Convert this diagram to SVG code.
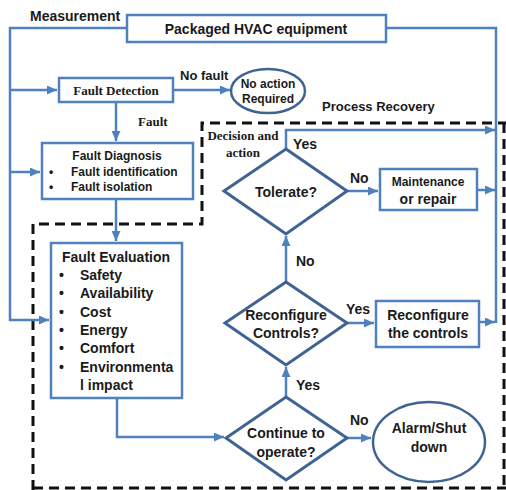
<svg xmlns="http://www.w3.org/2000/svg" width="506" height="490" viewBox="0 0 506 490">
<defs>
<style>
.box{fill:#fff;stroke:#4f81bd;stroke-width:2.5}
.dia{fill:#fff;stroke:#3f6494;stroke-width:3}
.ell{fill:#fff;stroke:#3f6494;stroke-width:2.5}
.con{fill:none;stroke:#4f81bd;stroke-width:2.5}
.arr{marker-end:url(#ah)}
.dash{fill:none;stroke:#111;stroke-width:3;stroke-dasharray:10 6}
text{font-family:"Liberation Sans",Arial,sans-serif;font-weight:bold;fill:#1a1a1a;dominant-baseline:central}
.s14{font-size:14px}
.s13{font-size:13px}
.s12{font-size:12px}
.serif{font-family:"Liberation Serif","Times New Roman",serif;font-size:13px}
.m{text-anchor:middle}
</style>
<marker id="ah" markerUnits="userSpaceOnUse" markerWidth="10" markerHeight="9" refX="10" refY="4.5" orient="auto">
<path d="M0,0 L10,4.5 L0,9 z" fill="#4f81bd"/>
</marker>
</defs>
<rect width="506" height="490" fill="#fff"/>

<g id="recovery-region">
<path class="dash" d="M33,490 V224 H202 V123 H506"/>
<path class="dash" d="M504,123 V490"/>
<path class="dash" d="M33,488 H506" stroke="#666" stroke-width="1.5"/>
<text class="s13" x="322" y="106" font-size="13.5">Process Recovery</text>
<text class="serif m" x="243" y="135">Decision and</text>
<text class="serif m" x="243" y="152">action</text>
</g>

<g id="connectors">
<path class="con arr" d="M127,28 H10 V320 H49"/>
<path class="con arr" d="M10,90 H57"/>
<path class="con arr" d="M10,172 H40"/>
<path class="con" d="M386,28 H496 V323"/>
<path class="con arr" d="M173,90 H230"/>
<path class="con arr" d="M116,102 V141"/>
<path class="con arr" d="M116,199 V241"/>
<path class="con arr" d="M117,398 V437 H224"/>
<path class="con arr" d="M347,438 H371"/>
<path class="con arr" d="M286,397 V367"/>
<path class="con arr" d="M347,323 H374"/>
<path class="con arr" d="M479,322 H495"/>
<path class="con arr" d="M286,282 V236"/>
<path class="con arr" d="M347,191 H378"/>
<path class="con arr" d="M477,190 H495"/>
<path class="con arr" d="M286,149 V130 H495"/>
<text class="s14" x="30" y="16">Measurement</text>
<text class="s13" x="180" y="75">No fault</text>
<text class="serif" x="138" y="121">Fault</text>
<text class="s14" x="293" y="144">Yes</text>
<text class="s14" x="350" y="178">No</text>
<text class="s14" x="296" y="261">No</text>
<text class="s14" x="346" y="309">Yes</text>
<text class="s14" x="296" y="385">Yes</text>
<text class="s14" x="350" y="420">No</text>
</g>

<g id="hvac">
<rect class="box" x="127" y="15" width="259" height="27"/>
<text class="s14 m" x="256" y="29">Packaged HVAC equipment</text>
</g>

<g id="fault-detection">
<rect class="box" x="59" y="78" width="114" height="24"/>
<text class="serif m" x="116" y="90">Fault Detection</text>
</g>

<g id="no-action">
<ellipse class="ell" cx="268" cy="91" rx="37" ry="22"/>
<text class="s12 m" x="268" y="84">No action</text>
<text class="s12 m" x="268" y="99">Required</text>
</g>

<g id="fault-diagnosis">
<rect class="box" x="42" y="143" width="151" height="56"/>
<text class="s12 m" x="117" y="156">Fault Diagnosis</text>
<text class="s12" x="49" y="172">•</text>
<text class="s12" x="71" y="172">Fault identification</text>
<text class="s12" x="49" y="187">•</text>
<text class="s12" x="71" y="187">Fault isolation</text>
</g>

<g id="fault-evaluation">
<rect class="box" x="51" y="243" width="131" height="155"/>
<text class="s14 m" x="116" y="257" font-size="13.2">Fault Evaluation</text>
<g class="s14">
<text x="59" y="275">•</text><text x="80" y="275">Safety</text>
<text x="59" y="293">•</text><text x="80" y="293">Availability</text>
<text x="59" y="312">•</text><text x="80" y="312">Cost</text>
<text x="59" y="330">•</text><text x="80" y="330">Energy</text>
<text x="59" y="348">•</text><text x="80" y="348">Comfort</text>
<text x="59" y="367">•</text><text x="80" y="367">Environmenta</text>
<text x="80" y="385">l impact</text>
</g>
</g>

<g id="tolerate">
<polygon class="dia" points="286,149 347,191 286,234 224,191"/>
<text class="s14 m" x="286" y="192">Tolerate?</text>
</g>

<g id="maintenance">
<rect class="box" x="380" y="169" width="97" height="41"/>
<text class="s12 m" x="428" y="182" font-size="12.5">Maintenance</text>
<text class="s14 m" x="428" y="199">or repair</text>
</g>

<g id="reconfigure-q">
<polygon class="dia" points="286,282 347,323 286,365 225,323"/>
<text class="s14 m" x="286" y="315">Reconfigure</text>
<text class="s14 m" x="286" y="333">Controls?</text>
</g>

<g id="reconfigure-box">
<rect class="box" x="376" y="301" width="103" height="46"/>
<text class="s14 m" x="428" y="315">Reconfigure</text>
<text class="s14 m" x="428" y="333">the controls</text>
</g>

<g id="continue-q">
<polygon class="dia" points="286,397 347,438 286,480 226,438"/>
<text class="s14 m" x="286" y="433">Continue to</text>
<text class="s14 m" x="286" y="452">operate?</text>
</g>

<g id="alarm">
<ellipse class="ell" cx="429" cy="442" rx="56" ry="40"/>
<text class="s14 m" x="429" y="428">Alarm/Shut</text>
<text class="s14 m" x="429" y="447">down</text>
</g>
</svg>
